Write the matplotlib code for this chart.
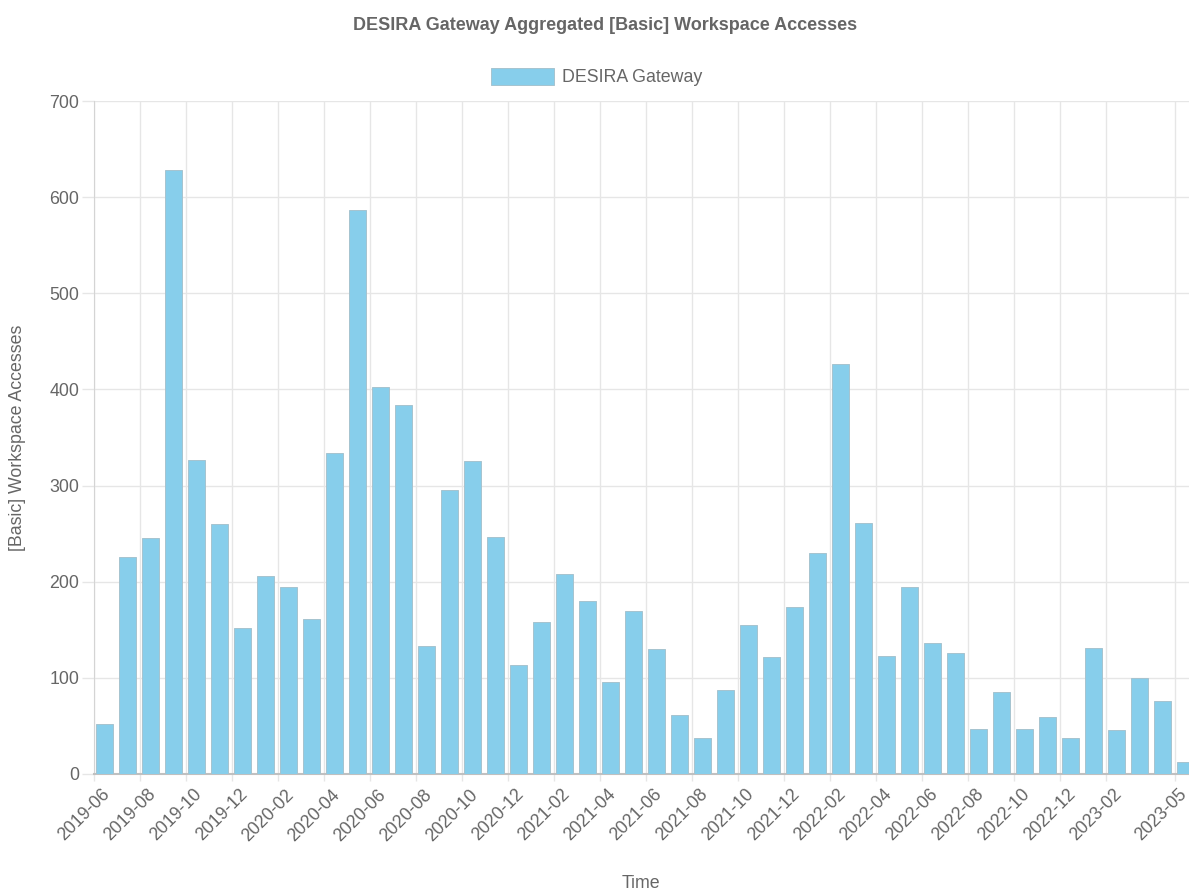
import matplotlib
matplotlib.use("Agg")
import matplotlib.pyplot as plt
import numpy as np
from matplotlib.transforms import ScaledTranslation

plt.rcParams['font.family'] = ['Liberation Sans', 'DejaVu Sans']

months = [
    '2019-06', '2019-07', '2019-08', '2019-09', '2019-10', '2019-11', '2019-12',
    '2020-01', '2020-02', '2020-03', '2020-04', '2020-05', '2020-06',
    '2020-07', '2020-08', '2020-09', '2020-10', '2020-11', '2020-12',
    '2021-01', '2021-02', '2021-03', '2021-04', '2021-05', '2021-06',
    '2021-07', '2021-08', '2021-09', '2021-10', '2021-11', '2021-12',
    '2022-01', '2022-02', '2022-03', '2022-04', '2022-05', '2022-06',
    '2022-07', '2022-08', '2022-09', '2022-10', '2022-11', '2022-12',
    '2023-01', '2023-02', '2023-03', '2023-04', '2023-05',
]
accesses = [
    52, 226, 245, 628, 327, 260, 152,
    206, 195, 161, 334, 587, 403,
    384, 133, 295, 326, 247, 113,
    158, 208, 180, 96, 170, 130,
    61, 37, 87, 155, 122, 174,
    230, 426, 261, 123, 195, 136,
    126, 47, 85, 47, 59, 37,
    131, 46, 100, 76, 13,
]
tick_months = [
    '2019-06', '2019-08', '2019-10', '2019-12', '2020-02', '2020-04', '2020-06',
    '2020-08', '2020-10', '2020-12', '2021-02', '2021-04', '2021-06', '2021-08',
    '2021-10', '2021-12', '2022-02', '2022-04', '2022-06', '2022-08', '2022-10',
    '2022-12', '2023-02', '2023-05',
]
y_ticks = [0, 100, 200, 300, 400, 500, 600, 700]

series_name = 'DESIRA Gateway'
title = 'DESIRA Gateway Aggregated [Basic] Workspace Accesses'
x_title = 'Time'
y_title = '[Basic] Workspace Accesses'

TEXT = '#666666'
GRID = '#e6e6e6'
BAR = '#87CEEB'

W, H = 1189, 891
fig = plt.figure(figsize=(W / 100, H / 100), dpi=100)
L, R, T, B = 94, 1189, 101, 774
ax = fig.add_axes([L / W, 1 - B / H, (R - L) / W, (B - T) / H])

xpos = np.arange(len(months)) + 0.46
bars = ax.bar(xpos, accesses, width=0.72, color=BAR, edgecolor='#a6c3cf',
              linewidth=0.7, zorder=3, label=series_name)

ax.set_xlim(0, 47.6)
ax.set_ylim(0, 700)

tick_pos = [months.index(m) for m in tick_months]
ax.set_xticks(tick_pos)
ax.set_xticklabels(tick_months, rotation=45, ha='right', va='center',
                   rotation_mode='anchor', fontsize=12.8, color=TEXT)
ax.set_yticks(y_ticks)
ax.set_yticklabels([str(v) for v in y_ticks], fontsize=12.8, color=TEXT)

ax.tick_params(axis='x', length=5, width=1, color=GRID, pad=8)
ax.tick_params(axis='y', length=9, width=1, color=GRID, pad=1.5)

xlabels = ax.get_xticklabels()
for i, lbl in enumerate(xlabels):
    dx = 13 if i < len(xlabels) - 1 else 9
    lbl.set_transform(lbl.get_transform() +
                      ScaledTranslation(dx / 100, 0, fig.dpi_scale_trans))

ax.grid(True, color=GRID, linewidth=1, zorder=0)
ax.set_axisbelow(True)
for s in ['top', 'right']:
    ax.spines[s].set_visible(False)
ax.spines['left'].set_color('#d4d4d4')
ax.spines['bottom'].set_color('#c0c0c0')
ax.spines['bottom'].set_linewidth(1.5)

ax.set_xlabel(x_title, fontsize=12.8, color=TEXT, va='center')
ax.xaxis.set_label_coords((641 - L) / (R - L), (B - 883) / (B - T))
ax.set_ylabel(y_title, fontsize=12.8, color=TEXT, va='center')
ax.yaxis.set_label_coords((18 - L) / (R - L), 0.5)

fig.text(605 / W, 1 - 25 / H, title, ha='center', va='center',
         fontsize=13, fontweight='bold', color=TEXT)

fig.legend(handles=[bars], labels=[series_name], loc='center',
           bbox_to_anchor=(597 / W, 1 - 77 / H), frameon=False,
           handlelength=3.5, handleheight=1.12, handletextpad=0.5,
           fontsize=12.8, labelcolor=TEXT)

fig.savefig('out.png', dpi=100)
